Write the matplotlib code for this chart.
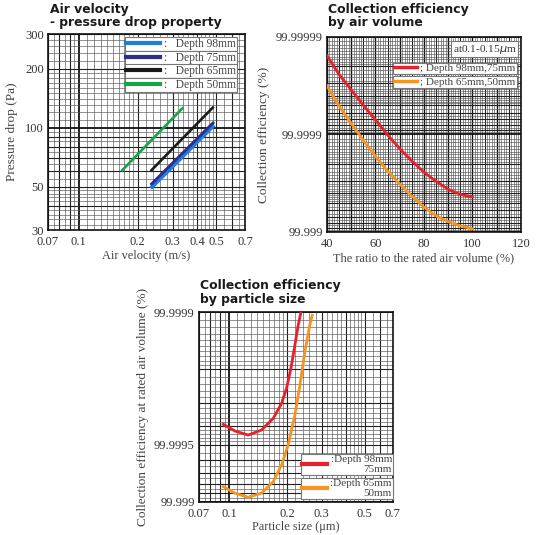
import matplotlib.pyplot as plt
import numpy as np
from matplotlib.lines import Line2D

# ---- chart 1: air velocity - pressure drop (m/s, Pa)
vel_98 = [0.232, 0.487]
dp_98 = [49, 103]
vel_75 = [0.232, 0.487]
dp_75 = [51, 107]
vel_65 = [0.232, 0.485]
dp_65 = [60, 128]
vel_50 = [0.165, 0.34]
dp_50 = [60, 127]

# ---- chart 2: efficiency vs ratio to rated air volume (%)
air_ratio = [40, 45, 50, 55, 60, 65, 70, 75, 80, 85, 90, 95, 100]
eff_98_75 = [99.9999844, 99.9999757, 99.9999651, 99.9999499, 99.9999290, 99.9998988,
             99.9998604, 99.9998129, 99.9997562, 99.9996980, 99.9996352, 99.9995880,
             99.9995635]
eff_65_50 = [99.9999683, 99.9999487, 99.9999229, 99.9998852, 99.9998325, 99.9997629,
             99.9996786, 99.9995734, 99.9994430, 99.9993160, 99.9992170, 99.9991330,
             99.9990750]

# ---- chart 3: efficiency vs particle size (um)
size_98_75 = [0.0934, 0.1073, 0.1256, 0.147, 0.169, 0.1866, 0.198, 0.2085, 0.2187,
              0.2275, 0.235]
peff_98_75 = [99.999610, 99.999577, 99.999556, 99.999582, 99.999637, 99.999697,
              99.999748, 99.999802, 99.999851, 99.999883, 99.9999]
size_65_50 = [0.0934, 0.1073, 0.1256, 0.147, 0.169, 0.1866, 0.2018, 0.2187, 0.2323,
              0.246, 0.261, 0.2685]
peff_65_50 = [99.999170, 99.999101, 99.999056, 99.999101, 99.999218, 99.999362,
              99.999499, 99.999652, 99.999758, 99.999838, 99.999883, 99.999896]

SERIF = 'Liberation Serif'
TITLE_FONT = 'DejaVu Sans'

fig = plt.figure(figsize=(5.4, 5.35), dpi=100)


def log_grid(ax, lo, hi, axis):
    # graph paper lines on a log axis: decade, integer and fine subdivisions
    fine = list(np.arange(1.1, 2.0, 0.1)) + list(np.arange(2.2, 5.0, 0.2)) + list(np.arange(5.5, 10, 0.5))
    fine = [m for m in fine if abs(m - round(m)) > 1e-6]
    draw = ax.axvline if axis == 'x' else ax.axhline
    for k in range(int(np.floor(np.log10(lo))) - 1, int(np.ceil(np.log10(hi))) + 1):
        b = 10.0 ** k
        for m in fine:
            if lo <= m * b <= hi:
                draw(m * b, color='#555555', lw=0.45, zorder=0)
        for m in range(2, 10):
            if lo <= m * b <= hi:
                draw(m * b, color='#222222', lw=0.8, zorder=0)
        if lo <= b <= hi:
            draw(b, color='#111111', lw=1.3, zorder=0)


def lin_grid(ax, lo, hi):
    for v in range(lo, hi + 1):
        if v % 10 == 0:
            ax.axvline(v, color='#111111', lw=1.0, zorder=0)
        elif v % 5 == 0:
            ax.axvline(v, color='#222222', lw=0.75, zorder=0)
        else:
            ax.axvline(v, color='#555555', lw=0.45, zorder=0)


def style(ax):
    for s in ax.spines.values():
        s.set_linewidth(1.2)
        s.set_color('#111111')
    ax.tick_params(which='both', length=0, pad=3, labelsize=9, labelcolor='#333333')
    ax.tick_params(axis='x', pad=4)
    for t in ax.get_xticklabels() + ax.get_yticklabels():
        t.set_fontfamily(SERIF)


def box_legend(ax, handle, label, anchor, loc='upper right', fs=8, hl=2.4):
    leg = ax.legend([handle], [label], loc=loc, bbox_to_anchor=anchor, frameon=True,
                    fancybox=False, framealpha=1, edgecolor='#777777',
                    handlelength=hl, handletextpad=0.35, borderpad=0.08, borderaxespad=0,
                    prop={'family': SERIF, 'size': fs})
    leg.get_frame().set_linewidth(0.8)
    for t in leg.get_texts():
        t.set_color('#444444')
        t.set_multialignment('right')
    ax.add_artist(leg)
    return leg


# ================= chart 1
ax1 = fig.add_axes([0.0889, 0.570, 0.365, 0.366])
ax1.set_xscale('log')
ax1.set_yscale('log')
ax1.set_xlim(0.07, 0.7)
ax1.set_ylim(30, 300)
log_grid(ax1, 0.07, 0.7, 'x')
log_grid(ax1, 30, 300, 'y')
c98, c75, c65, c50 = '#1f7fd4', '#2b2f8f', '#1a1a1a', '#17a34a'
ax1.plot(vel_98, dp_98, color=c98, lw=2.8, solid_capstyle='butt', zorder=3)
ax1.plot(vel_75, dp_75, color=c75, lw=2.1, solid_capstyle='butt', zorder=4)
ax1.plot(vel_65, dp_65, color=c65, lw=1.9, solid_capstyle='butt', zorder=3)
ax1.plot(vel_50, dp_50, color=c50, lw=1.9, solid_capstyle='butt', zorder=3)
xt1 = [0.07, 0.1, 0.2, 0.3, 0.4, 0.5, 0.7]
ax1.set_xticks(xt1, [str(v) for v in xt1])
ax1.set_xticks([], minor=True)
yt1 = [30, 50, 100, 200, 300]
ax1.set_yticks(yt1, [str(v) for v in yt1])
ax1.set_yticks([], minor=True)
style(ax1)
ax1.set_xlabel('Air velocity (m/s)', fontfamily=SERIF, fontsize=8.8, color='#444444', labelpad=2)
ax1.set_ylabel('Pressure drop (Pa)', fontfamily=SERIF, fontsize=9.6, color='#444444', labelpad=5)
for i, (c, lab) in enumerate([(c98, ':   Depth 98mm'), (c75, ':   Depth 75mm'),
                              (c65, ':   Depth 65mm'), (c50, ':   Depth 50mm')]):
    box_legend(ax1, Line2D([], [], color=c, lw=3), lab, (0.96, 0.985 - i * 0.069),
               fs=8.3, hl=3.0)
fig.text(0.0926, 0.995, 'Air velocity\n- pressure drop property', fontfamily=TITLE_FONT,
         fontweight='bold', fontsize=8.9, va='top', ha='left', linespacing=1.05, color='#1a1a1a')

# ================= chart 2
ax2 = fig.add_axes([0.6056, 0.5664, 0.359, 0.3645])
ax2.set_yscale('log')
ax2.set_xlim(40, 120)
ax2.set_ylim(1e-3, 1e-5)
lin_grid(ax2, 40, 120)
log_grid(ax2, 1e-5, 1e-3, 'y')
cred, corg = '#e8202a', '#f7931e'
ax2.plot(air_ratio, 100 - np.array(eff_98_75), color=cred, lw=2.0, zorder=3)
ax2.plot(air_ratio, 100 - np.array(eff_65_50), color=corg, lw=2.0, zorder=3)
ax2.set_xticks([40, 60, 80, 100, 120])
ax2.set_yticks([1e-3, 1e-4, 1e-5], ['99.999', '99.9999', '99.99999'])
ax2.set_yticks([], minor=True)
style(ax2)
ax2.set_xlabel('The ratio to the rated air volume (%)', fontfamily=SERIF, fontsize=8.8,
               color='#444444', labelpad=2)
ax2.set_ylabel('Collection efficiency (%)', fontfamily=SERIF, fontsize=9.6, color='#444444', labelpad=4)
ax2.text(0.978, 0.971, 'at0.1-0.15$\\mu$m', transform=ax2.transAxes, ha='right', va='top',
         fontfamily=SERIF, fontsize=8.2, color='#333333', zorder=6,
         bbox=dict(boxstyle='square,pad=0.15', fc='white', ec='#777777', lw=0.8))
box_legend(ax2, Line2D([], [], color=cred, lw=2.4), '; Depth 98mm,75mm', (0.978, 0.868), fs=8, hl=2.0)
box_legend(ax2, Line2D([], [], color=corg, lw=2.4), '; Depth 65mm,50mm', (0.978, 0.800), fs=8, hl=2.0)
fig.text(0.6068, 0.995, 'Collection efficiency\nby air volume', fontfamily=TITLE_FONT,
         fontweight='bold', fontsize=8.9, va='top', ha='left', linespacing=1.05, color='#1a1a1a')

# ================= chart 3
ax3 = fig.add_axes([0.3685, 0.0617, 0.359, 0.355])
ax3.set_xscale('log')
ax3.set_yscale('log')
ax3.set_xlim(0.07, 0.7)
ax3.set_ylim(1e-3, 1e-4)
log_grid(ax3, 0.07, 0.7, 'x')
log_grid(ax3, 1e-4, 1e-3, 'y')
ax3.plot(size_98_75, 100 - np.array(peff_98_75), color=cred, lw=2.0, zorder=3)
ax3.plot(size_65_50, 100 - np.array(peff_65_50), color=corg, lw=2.0, zorder=3)
xt3 = [0.07, 0.1, 0.2, 0.3, 0.5, 0.7]
ax3.set_xticks(xt3, [str(v) for v in xt3])
ax3.set_xticks([], minor=True)
ax3.set_yticks([1e-3, 5e-4, 1e-4], ['99.999', '99.9995', '99.9999'])
ax3.set_yticks([], minor=True)
style(ax3)
ax3.set_xlabel('Particle size (\u03bcm)', fontfamily=SERIF, fontsize=8.8, color='#444444', labelpad=1)
ax3.set_ylabel('Collection efficiency at rated air volume (%)', fontfamily=SERIF, fontsize=9.5,
               color='#444444', labelpad=4)
box_legend(ax3, Line2D([], [], color=cred, lw=3), ':Depth 98mm\n75mm', (1.0, 0.253), fs=8, hl=2.2)
box_legend(ax3, Line2D([], [], color=corg, lw=3), ':Depth 65mm\n50mm', (1.0, 0.127), fs=8, hl=2.2)
fig.text(0.3704, 0.478, 'Collection efficiency\nby particle size', fontfamily=TITLE_FONT,
         fontweight='bold', fontsize=8.9, va='top', ha='left', linespacing=1.05, color='#1a1a1a')

fig.savefig('out.png', dpi=100)
